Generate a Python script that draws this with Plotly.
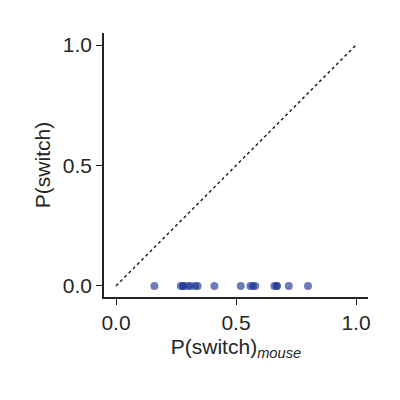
import plotly.graph_objects as go

p_mouse = [0.16, 0.27, 0.28, 0.28, 0.30, 0.31, 0.33, 0.34, 0.41, 0.52,
           0.56, 0.57, 0.58, 0.66, 0.67, 0.67, 0.72, 0.80]
p_switch = [0.0] * len(p_mouse)
diag = [0.0, 1.0]

fig = go.Figure()
fig.add_trace(go.Scatter(x=diag, y=diag, mode="lines",
                         line={"color": "#222222", "width": 1.5, "dash": "dot"}))
fig.add_trace(go.Scatter(x=p_mouse, y=p_switch, mode="markers",
                         marker={"color": "rgba(30,55,150,0.65)", "size": 8}))

axis = dict(showgrid=False, zeroline=False, showline=True, linecolor="#222222",
            linewidth=1.5, ticks="outside", ticklen=6, tickcolor="#222222",
            tickvals=[0, 0.5, 1], ticktext=["0.0", "0.5", "1.0"],
            tickfont={"size": 21, "color": "#262626"})
fig.update_layout(
    width=400, height=400, showlegend=False,
    plot_bgcolor="white", paper_bgcolor="white",
    font={"family": "Liberation Sans, Arial", "color": "#262626"},
    margin={"l": 96, "r": 40, "t": 25, "b": 111},
    xaxis=dict(axis, range=[-0.05, 1.05],
               title={"text": "P(switch)<sub><i>mouse</i></sub>", "font": {"size": 21}, "standoff": 6}),
    yaxis=dict(axis, range=[-0.046, 1.05],
               title={"text": "P(switch)", "font": {"size": 21}, "standoff": 6}),
)
fig.write_html("out.html")
